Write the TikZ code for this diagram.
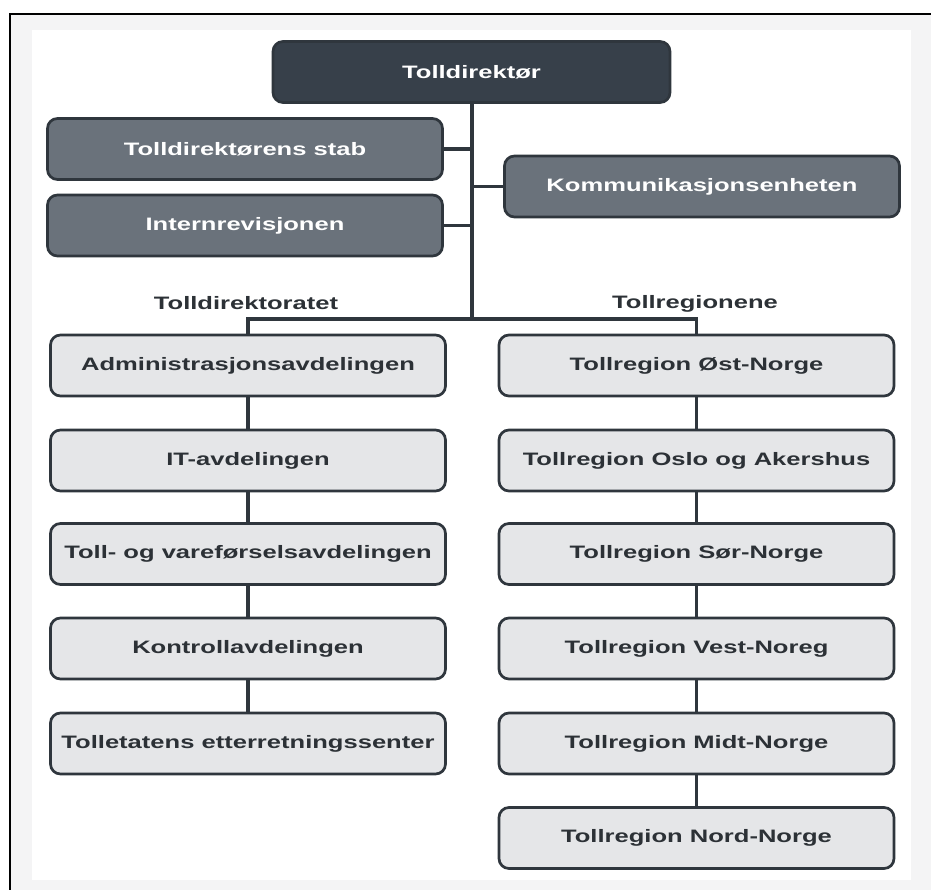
\documentclass[tikz,border=0pt]{standalone}
\usepackage{fontspec}
\setmainfont[FakeStretch=1.42]{Liberation Sans}
\usetikzlibrary{positioning}

\definecolor{boxline}{HTML}{2F363D}
\definecolor{darkfill}{HTML}{37404A}
\definecolor{midfill}{HTML}{6A727B}
\definecolor{lightfill}{HTML}{E5E6E8}
\definecolor{textdark}{HTML}{2C3136}
\definecolor{panelgray}{HTML}{F4F4F5}

\tikzset{
  orgbox/.style={draw=boxline, line width=2.7pt, rounded corners=10pt,
    minimum width=395pt, minimum height=61pt, inner sep=0pt,
    font=\fontsize{18}{20}\selectfont\bfseries},
  chiefbox/.style={orgbox, fill=darkfill, text=white, minimum width=397pt},
  stabbox/.style={orgbox, fill=midfill, text=white},
  unitbox/.style={orgbox, fill=lightfill, text=textdark},
  grouplabel/.style={text=textdark, font=\fontsize{18}{20}\selectfont\bfseries},
  link/.style={draw=boxline, line width=3.2pt}
}

\begin{document}
\begin{tikzpicture}[x=1pt, y=-1pt]
\useasboundingbox (0,0) rectangle (931,890);
% frame and panel
\fill[white] (0,0) rectangle (931,890);
\fill[panelgray] (10,14) rectangle (931,890);
\fill[white] (32,30) rectangle (911,880);
\draw[black, line width=2.4pt] (10,890) -- (10,14) -- (931,14);

% top of the chart
\node[chiefbox] (chief) at (471.5,72) {Tolldirektør};
\node[stabbox] (stab) at (245,149) {Tolldirektørens stab};
\node[stabbox] (intrev) at (245,225.5) {Internrevisjonen};
\node[stabbox] (komm) at (702,186.5) {Kommunikasjonsenheten};

\node[grouplabel] (dirlabel) at (246,303) {Tolldirektoratet};
\node[grouplabel] (reglabel) at (695,304) {Tollregionene};

% Tolldirektoratet
\node[unitbox] (adm) at (248,365.5) {Administrasjonsavdelingen};
\node[unitbox] (it) at (248,460.5) {IT-avdelingen};
\node[unitbox] (tollvare) at (248,554) {Toll- og vareførselsavdelingen};
\node[unitbox] (kontroll) at (248,648.5) {Kontrollavdelingen};
\node[unitbox] (etterretning) at (248,743.5) {Tolletatens etterretningssenter};

% Tollregionene
\node[unitbox] (ost) at (696.5,365.5) {Tollregion Øst-Norge};
\node[unitbox] (oslo) at (696.5,460.5) {Tollregion Oslo og Akershus};
\node[unitbox] (sor) at (696.5,554) {Tollregion Sør-Norge};
\node[unitbox] (vest) at (696.5,648.5) {Tollregion Vest-Noreg};
\node[unitbox] (midt) at (696.5,743.5) {Tollregion Midt-Norge};
\node[unitbox] (nord) at (696.5,838) {Tollregion Nord-Norge};

% connectors
\coordinate (bus) at (472,319);
\draw[link] (chief.south -| bus) -- (bus);
\draw[link] (stab.east) -- (stab.east -| bus);
\draw[link] (intrev.east) -- (intrev.east -| bus);
\draw[link] (komm.west) -- (komm.west -| bus);
\draw[link] (adm.north) |- (bus) -| (ost.north);
\draw[link] (adm) -- (it);
\draw[link] (it) -- (tollvare);
\draw[link] (tollvare) -- (kontroll);
\draw[link] (kontroll) -- (etterretning);
\draw[link] (ost) -- (oslo);
\draw[link] (oslo) -- (sor);
\draw[link] (sor) -- (vest);
\draw[link] (vest) -- (midt);
\draw[link] (midt) -- (nord);
\end{tikzpicture}
\end{document}
